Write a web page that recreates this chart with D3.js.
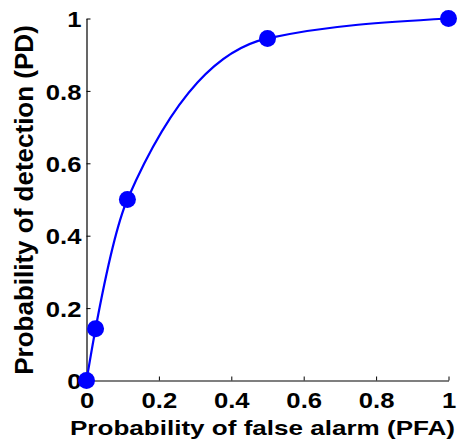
<!DOCTYPE html>
<html><head><meta charset="utf-8">
<script src="https://cdn.jsdelivr.net/npm/d3@7"></script>
<style>body{margin:0;background:#fff}</style>
</head><body>
<svg id="c" width="465" height="444"></svg>
<script>
const pfa = [0, 0.025, 0.113, 0.5, 1];
const pd = [0, 0.143, 0.5, 0.945, 1];
const xTicks = [0, 0.2, 0.4, 0.6, 0.8, 1];
const yTicks = [0, 0.2, 0.4, 0.6, 0.8, 1];
const xLabel = "Probability of false alarm (PFA)";
const yLabel = "Probability of detection (PD)";

const FONT = "'Liberation Sans', Arial, sans-serif";
const svg = d3.select("#c");
const x = d3.scaleLinear().domain([0, 1]).range([86.5, 448.5]);
const y = d3.scaleLinear().domain([0, 1]).range([380.5, 18.5]);
const fmt = d => String(d);

function stretch(sel, k) {
  sel.each(function () {
    const w = this.getComputedTextLength();
    d3.select(this).attr("textLength", w * k).attr("lengthAdjust", "spacingAndGlyphs");
  });
}

const xa = svg.append("g").attr("transform", "translate(0,380.5)")
  .call(d3.axisBottom(x).tickValues(xTicks).tickFormat(fmt).tickSizeInner(-4).tickSizeOuter(0).tickPadding(11.5));
const ya = svg.append("g").attr("transform", "translate(86.5,0)")
  .call(d3.axisLeft(y).tickValues(yTicks).tickFormat(fmt).tickSizeInner(-4).tickSizeOuter(0).tickPadding(5));
[xa, ya].forEach(a => {
  a.select(".domain").attr("stroke", "#000").attr("stroke-width", 1.2);
  a.selectAll(".tick line").attr("stroke", "#000");
  a.selectAll("text").attr("fill", "#000").style("font-family", FONT)
    .style("font-weight", "bold").style("font-size", "22.5px");
  stretch(a.selectAll("text"), 1.14);
});
ya.selectAll("text").attr("dy", "0.36em");

const data = pfa.map((v, i) => [v, pd[i]]);
svg.append("path").datum(data)
  .attr("fill", "none").attr("stroke", "#0000ff").attr("stroke-width", 2.2)
  .attr("d", d3.line().x(d => x(d[0])).y(d => y(d[1])).curve(d3.curveMonotoneX));
svg.selectAll("circle.p").data(data).join("circle").attr("class", "p")
  .attr("cx", d => x(d[0])).attr("cy", d => y(d[1])).attr("r", 8.5).attr("fill", "#0000ff");

const xl = svg.append("text").attr("x", 262.5).attr("y", 435).attr("text-anchor", "middle")
  .style("font-family", FONT).style("font-weight", "bold").style("font-size", "21px")
  .text(xLabel);
xl.attr("textLength", 385).attr("lengthAdjust", "spacingAndGlyphs");
svg.append("text").attr("transform", "translate(33,200) rotate(-90)").attr("text-anchor", "middle")
  .style("font-family", FONT).style("font-weight", "bold").style("font-size", "26px")
  .text(yLabel);
</script>
</body></html>
